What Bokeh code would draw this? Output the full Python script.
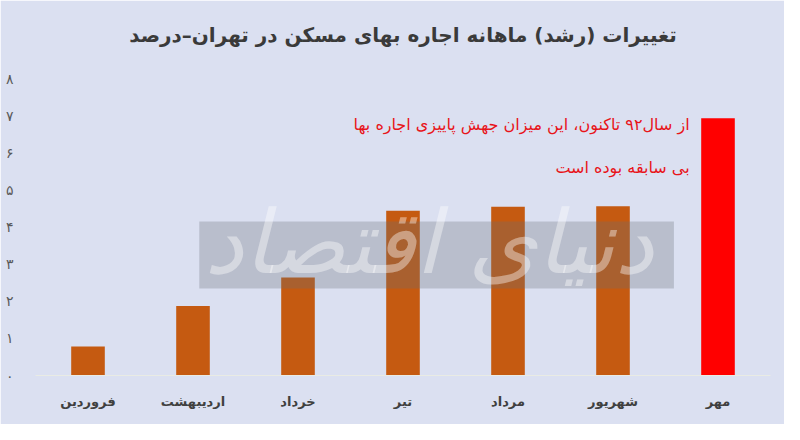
from bokeh.plotting import figure
from bokeh.models import Range1d, FixedTicker, BoxAnnotation, Label
from bokeh.core.properties import value
from bokeh.embed import file_html
from bokeh.resources import INLINE

# ---- data ----
months = ["فروردین", "اردیبهشت", "خرداد", "تیر", "مرداد", "شهریور", "مهر"]
growth = [0.78, 1.88, 2.65, 4.45, 4.56, 4.57, 6.95]
bar_colors = ["#c55a11", "#c55a11", "#c55a11", "#c55a11", "#c55a11", "#c55a11", "#ff0000"]
y_ticks = [0, 1, 2, 3, 4, 5, 6, 7, 8]
y_tick_labels = ["\u06f0", "\u06f1", "\u06f2", "\u06f3", "\u06f4", "\u06f5", "\u06f6", "\u06f7", "\u06f8"]
title_text = "تغییرات (رشد) ماهانه اجاره بهای مسکن در تهران–درصد"
note_lines = ["از سال\u0669\u0662 تاکنون، این میزان جهش پاییزی اجاره بها", "بی سابقه بوده است"]
note_y = [6.78, 5.62]
watermark_text = "دنیای اقتصاد"

BG = "#dbe0f1"
FONT = "DejaVu Sans"

p = figure(x_range=months, y_range=Range1d(0, 8.4), width=784, height=424,
           output_backend="svg", toolbar_location=None,
           min_border_left=35, min_border_right=14, min_border_top=64, min_border_bottom=49)
p.background_fill_color = BG
p.border_fill_color = BG
p.outline_line_color = BG
p.outline_line_width = 3
p.xgrid.grid_line_color = None
p.ygrid.grid_line_color = None

p.vbar(x=months, top=growth, width=0.32, fill_color=bar_colors, line_color=None)

# watermark band
p.add_layout(BoxAnnotation(left=1.56, right=6.08, bottom=2.35, top=4.16,
                           fill_color="#6a7276", fill_alpha=0.3, line_color=None))
p.add_layout(Label(x=3.75, y=2.2, text=watermark_text, text_align="center",
                   text_baseline="bottom", text_font=FONT, text_font_size="88px",
                   text_font_style="italic", text_color="white", text_alpha=0.4))

# annotation
p.text(x=[6.23, 6.23], y=note_y, text=note_lines, text_align="right", text_baseline="middle",
       text_font=value(FONT), text_font_size="16px", text_color="#e8141a")

# title
p.title.text = title_text
p.title.align = "center"
p.title.text_font = FONT
p.title.text_font_size = "20px"
p.title.text_font_style = "bold"
p.title.text_color = "#3a3a3a"
p.title.standoff = 36

# axes
p.xaxis.axis_line_color = "#e9ebe4"
p.xaxis.major_tick_line_color = None
p.xaxis.minor_tick_line_color = None
p.xaxis.major_label_text_font = FONT
p.xaxis.major_label_text_font_size = "13px"
p.xaxis.major_label_text_font_style = "bold"
p.xaxis.major_label_text_color = "#404040"
p.xaxis.major_label_standoff = 12

p.yaxis.ticker = FixedTicker(ticks=y_ticks)
p.yaxis.major_label_overrides = {t: l for t, l in zip(y_ticks, y_tick_labels)}
p.yaxis.axis_line_color = None
p.yaxis.major_tick_line_color = None
p.yaxis.minor_tick_line_color = None
p.yaxis.major_label_text_font = FONT
p.yaxis.major_label_text_font_size = "14px"
p.yaxis.major_label_text_color = "#595959"
p.yaxis.major_label_standoff = 16

open("out.html", "w").write(file_html(p, INLINE))
